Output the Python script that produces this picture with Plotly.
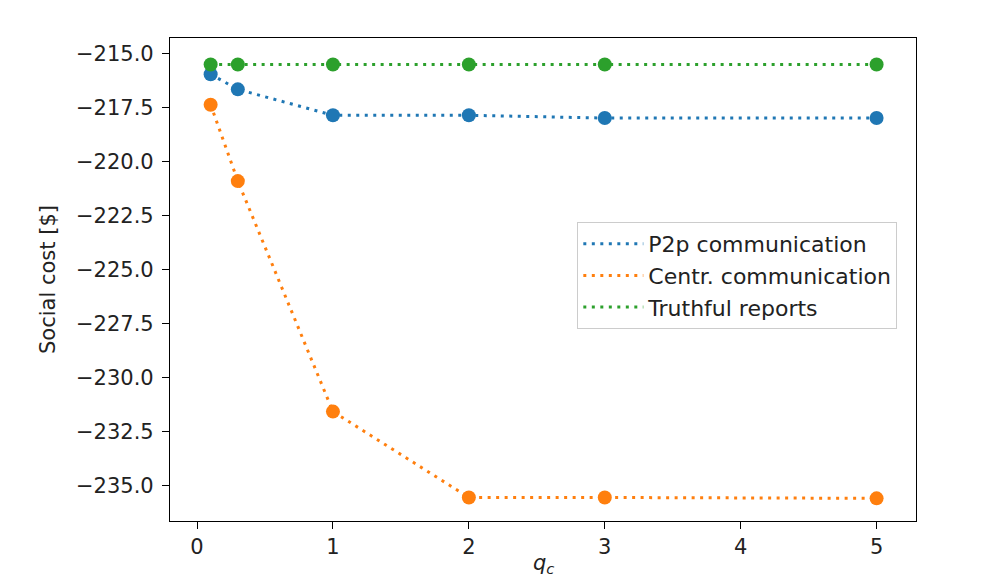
import plotly.graph_objects as go

q_c = [0.1, 0.3, 1, 2, 3, 5]
p2p = [-215.95, -216.65, -217.85, -217.85, -217.98, -217.98]
centr = [-217.36, -220.9, -231.58, -235.56, -235.56, -235.6]
truthful = [-215.5, -215.5, -215.5, -215.5, -215.5, -215.5]

names = ["P2p communication", "Centr. communication", "Truthful reports"]
colors = ["#1f77b4", "#ff7f0e", "#2ca02c"]
series = [p2p, centr, truthful]

FONT = "DejaVu Sans"
FS = 21
fig = go.Figure()
for i, (nm, col, ys) in enumerate(zip(names, colors, series)):
    fig.add_trace(go.Scatter(
        x=q_c, y=ys, mode="lines", name=nm, legendgroup=f"g{i}",
        line=dict(color=col, width=3, dash="3px,5.5px"),
    ))
for i, (nm, col, ys) in enumerate(zip(names, colors, series)):
    fig.add_trace(go.Scatter(
        x=q_c, y=ys, mode="markers", showlegend=False, legendgroup=f"g{i}",
        marker=dict(color=col, size=14, line=dict(width=0)),
    ))

axis_common = dict(
    showline=True, mirror=True, linecolor="#000", linewidth=1.2,
    ticks="outside", ticklen=7, tickwidth=1.2, tickcolor="#000",
    showgrid=False, zeroline=False, automargin=False,
    tickfont=dict(family=FONT, size=FS, color="#222"),
)
fig.update_xaxes(
    range=[-0.199, 5.29], tickvals=[0, 1, 2, 3, 4, 5],
    **axis_common,
)
fig.update_yaxes(
    range=[-236.65, -214.27], tick0=-215, dtick=2.5, tickformat=".1f",
    title=dict(text="Social cost [$]", font=dict(family=FONT, size=FS, color="#222"), standoff=14),
    ticklabelstandoff=4,
    **axis_common,
)
# x-axis title, placed as low as possible while staying fully on the canvas
fig.add_annotation(
    text="<i>q</i><sub><i>c</i></sub>", xref="paper", yref="paper",
    x=0.5, y=-0.12, xanchor="center", yanchor="bottom", showarrow=False,
    font=dict(family=FONT, size=FS, color="#222"),
)
fig.update_layout(
    width=985, height=582,
    margin=dict(l=170, r=69, t=38, b=61),
    plot_bgcolor="white", paper_bgcolor="white",
    font=dict(family=FONT, size=FS, color="#222"),
    legend=dict(
        x=0.546, y=0.619, xanchor="left", yanchor="top",
        bgcolor="rgba(255,255,255,0.8)", bordercolor="#cccccc", borderwidth=1,
        font=dict(family=FONT, size=22, color="#222"),
        traceorder="grouped", tracegroupgap=0, itemwidth=60,
    ),
)
fig.write_html("out.html")
